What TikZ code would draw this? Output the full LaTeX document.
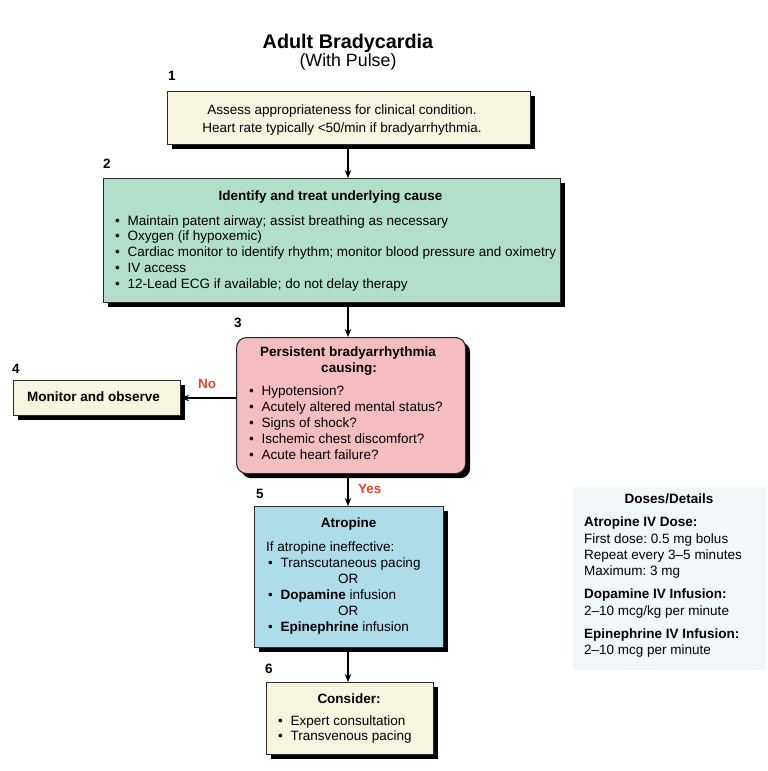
\documentclass[tikz,border=0pt]{standalone}
\usepackage{fontspec}
\setmainfont{Liberation Sans}
\frenchspacing
\usetikzlibrary{arrows.meta}
\definecolor{cream}{HTML}{F7F4E0}
\definecolor{mint}{HTML}{B2DECC}
\definecolor{rose}{HTML}{F4BEC0}
\definecolor{sky}{HTML}{AEDCEA}
\definecolor{dosebg}{HTML}{F1F7F8}
\definecolor{alert}{HTML}{E8412C}
\definecolor{edge}{HTML}{2A2A2A}
\newcommand{\bodyfont}{\fontsize{13.5}{16}\selectfont}
\newcommand{\bl}{\makebox[12.5pt][l]{\textbullet}}
\tikzset{
  box/.style={draw=edge, line width=1.1pt, anchor=north west, inner sep=0pt},
  shadowbox/.style={fill=black, draw=none, anchor=north west, inner sep=0pt},
  tl/.style={font=\bodyfont, inner sep=0pt, anchor=base west},
  tc/.style={font=\bodyfont, inner sep=0pt, anchor=base},
  tb/.style={font=\bodyfont\bfseries, inner sep=0pt, anchor=base},
  num/.style={font=\fontsize{13.5}{16}\selectfont\bfseries, inner sep=0pt, anchor=base west},
  lab/.style={font=\fontsize{13.5}{16}\selectfont\bfseries, text=alert, inner sep=0pt, anchor=base west},
  arr/.style={-{Stealth[length=8pt,width=6.5pt]}, line width=1.3pt, black}
}
\begin{document}
\begin{tikzpicture}[x=1pt,y=-1pt]
\useasboundingbox (0,0) rectangle (768,771);
% title
\node[font=\fontsize{19.8}{22}\selectfont\bfseries, inner sep=0pt, anchor=base] (title) at (348,48) {Adult Bradycardia};
\node[font=\fontsize{17.8}{20}\selectfont, inner sep=0pt, anchor=base] (subtitle) at (348,66) {(With Pulse)};

% shadows (drawn first, behind the boxes)
\node[shadowbox, minimum width=363, minimum height=53] (s1) at (172,96) {};
\node[shadowbox, minimum width=457, minimum height=124] (s2) at (108,183) {};
\node[shadowbox, rounded corners=10pt, minimum width=229, minimum height=136] (s3) at (241,342) {};
\node[shadowbox, minimum width=167, minimum height=35] (s4) at (18,385) {};
\node[shadowbox, minimum width=189, minimum height=141] (s5) at (259,511) {};
\node[shadowbox, minimum width=167, minimum height=72] (s6) at (271,687) {};

% boxes
\node[box, fill=cream, minimum width=363, minimum height=53] (b1) at (167,91) {};
\node[box, fill=mint, minimum width=457, minimum height=124] (b2) at (103,178) {};
\node[box, fill=rose, rounded corners=10pt, minimum width=229, minimum height=136] (b3) at (236,337) {};
\node[box, fill=cream, minimum width=167, minimum height=35] (b4) at (13,380) {};
\node[box, fill=sky, minimum width=189, minimum height=141] (b5) at (254,506) {};
\node[box, fill=cream, minimum width=167, minimum height=72] (b6) at (266,682) {};
\node[fill=dosebg, inner sep=0pt, anchor=north west, minimum width=193, minimum height=183] (dose) at (573,487) {};

% step numbers
\node[num] (n1) at (168,80) {1};
\node[num] (n2) at (103,168) {2};
\node[num] (n3) at (234,327) {3};
\node[num] (n4) at (12,373) {4};
\node[num] (n5) at (256,498) {5};
\node[num] (n6) at (265,673) {6};

% box 1
\node[tc] (t11) at (342,114) {Assess appropriateness for clinical condition.};
\node[tc] (t12) at (342,132.7) {Heart rate typically <50/min if bradyarrhythmia.};

% box 2
\node[tb] (t20) at (330.5,200) {Identify and treat underlying cause};
\begin{scope}[every node/.append style={font=\fontsize{13.1}{16}\selectfont}]
\node[tl] (t21) at (115,225) {\bl Maintain patent airway; assist breathing as necessary};
\node[tl] (t22) at (115,240.8) {\bl Oxygen (if hypoxemic)};
\node[tl] (t23) at (115,256.7) {\bl Cardiac monitor to identify rhythm; monitor blood pressure and oximetry};
\node[tl] (t24) at (115,272.6) {\bl IV access};
\node[tl] (t25) at (115,288.4) {\bl 12-Lead ECG if available; do not delay therapy};
\end{scope}

% box 3
\node[tb] (t30) at (348,356.7) {Persistent bradyarrhythmia};
\node[tb] (t31) at (349,372.7) {causing:};
\node[tl] (t32) at (249,395) {\bl Hypotension?};
\node[tl] (t33) at (249,411.3) {\bl Acutely altered mental status?};
\node[tl] (t34) at (249,427.3) {\bl Signs of shock?};
\node[tl] (t35) at (249,443.3) {\bl Ischemic chest discomfort?};
\node[tl] (t36) at (249,459.3) {\bl Acute heart failure?};

% box 4
\node[tb] (t40) at (93.5,401.7) {Monitor and observe};

% box 5
\node[tb] (t50) at (348.7,527.7) {Atropine};
\node[tl] (t51) at (266,551.7) {If atropine ineffective:};
\node[tl] (t52) at (268,567.5) {\bl Transcutaneous pacing};
\node[tc] (t53) at (348.3,583.4) {OR};
\node[tl] (t54) at (268,599.5) {\bl \textbf{Dopamine} infusion};
\node[tc] (t55) at (348.3,615.6) {OR};
\node[tl] (t56) at (268,631.6) {\bl \textbf{Epinephrine} infusion};

% box 6
\node[tb] (t60) at (349,703.3) {Consider:};
\node[tl] (t61) at (278,725) {\bl Expert consultation};
\node[tl] (t62) at (278,740.8) {\bl Transvenous pacing};

% doses
\node[tb] (d0) at (669,503.3) {Doses/Details};
\node[tl, font=\bodyfont\bfseries] (d1) at (584,526.7) {Atropine IV Dose:};
\node[tl] (d2) at (584,543.3) {First dose: 0.5 mg bolus};
\node[tl] (d3) at (584,559.3) {Repeat every 3–5 minutes};
\node[tl] (d4) at (584,575) {Maximum: 3 mg};
\node[tl, font=\bodyfont\bfseries] (d5) at (584,598.3) {Dopamine IV Infusion:};
\node[tl] (d6) at (584,615) {2–10 mcg/kg per minute};
\node[tl, font=\bodyfont\bfseries] (d7) at (584,638.3) {Epinephrine IV Infusion:};
\node[tl] (d8) at (584,654) {2–10 mcg per minute};

% connectors
\coordinate (c1) at (348,144.5);
\draw[arr] (b1.south -| c1) -- (b2.north -| c1);
\draw[arr] (b2.south -| c1) -- (b3.north -| c1);
\draw[arr] (b3.west |- b4.east) -- (b4.east);
\draw[arr] (b3.south -| c1) -- (b5.north -| c1);
\draw[arr] (b5.south -| c1) -- (b6.north -| c1);
\node[lab] (no) at (198,388) {No};
\node[lab] (yes) at (358,493) {Yes};
\end{tikzpicture}
\end{document}
